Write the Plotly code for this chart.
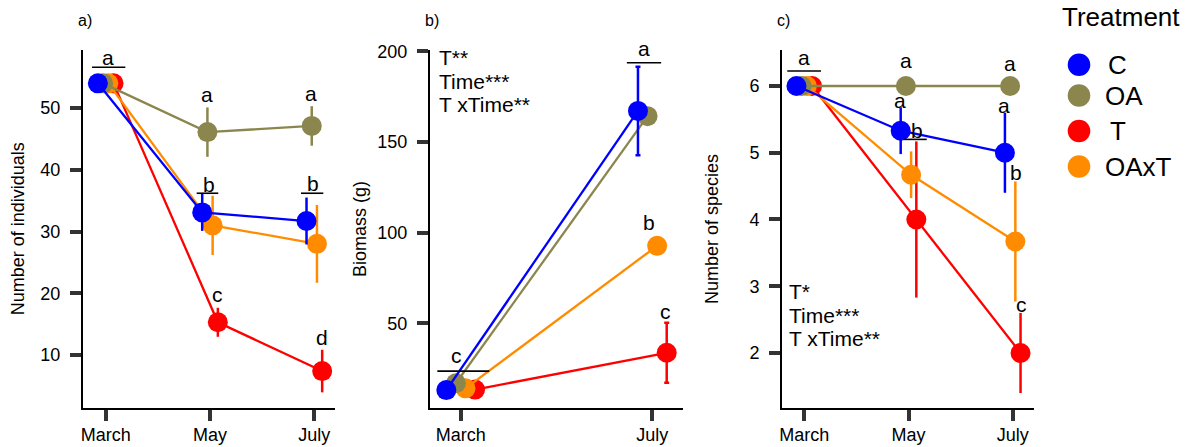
import plotly.graph_objects as go

W, H = 1189, 447
FONT = "Liberation Sans, Arial, sans-serif"

# ---------------- data ----------------
treatments = ["C", "OA", "OAxT", "T"]            # dodge order (left -> right)
legend_order = ["C", "OA", "T", "OAxT"]
draw_order = ["T", "OAxT", "OA", "C"]             # bottom -> top
colors = {"C": "#0000FF", "OA": "#8B864E", "T": "#FF0000", "OAxT": "#FF8C00"}
dodge = {"C": -0.075, "OA": -0.025, "OAxT": 0.025, "T": 0.075}

months3 = ["March", "May", "July"]
months2 = ["March", "July"]

# a) Number of individuals
ind_mean = {"C": [54, 33.1, 31.7], "OA": [54, 46.1, 47.1],
            "T": [54, 15.3, 7.4], "OAxT": [54, 31.0, 28.0]}
ind_err = {"C": [0, 3.0, 3.8], "OA": [0, 4.0, 3.2],
           "T": [0, 2.35, 3.45], "OAxT": [0, 4.8, 6.3]}

# b) Biomass (g)
bio_mean = {"C": [13.2, 167.2], "OA": [17.0, 164.3],
            "T": [13.5, 33.8], "OAxT": [14.2, 92.8]}
bio_err = {"C": [0, 24.4], "OA": [0, 0],
           "T": [0, 16.5], "OAxT": [0, 0]}

# c) Number of species
spe_mean = {"C": [6, 5.33, 5.0], "OA": [6, 6, 6],
            "T": [6, 4.0, 2.0], "OAxT": [6, 4.67, 3.67]}
spe_err = {"C": [0, 0.35, 0.6], "OA": [0, 0, 0],
           "T": [0, 1.17, 0.6], "OAxT": [0, 0.35, 0.9]}

# significance letters: (text, x in category units, y baseline in data units)
letters_a = [("a", 1.025, 56.96), ("a", 1.972, 51.0), ("a", 2.970, 51.2),
             ("b", 1.987, 36.45), ("b", 2.985, 36.6), ("c", 2.072, 18.6),
             ("d", 3.071, 11.6)]
underlines_a = [(0.869, 1.188, 56.6), (1.872, 2.079, 36.2), (2.872, 3.086, 36.2)]

letters_b = [("a", 1.955, 197.8), ("b", 1.982, 101.4), ("c", 2.070, 52.7),
             ("c", 0.979, 28.3)]
underlines_b = [(1.867, 2.046, 193.8), (0.878, 1.149, 23.7)]

letters_c = [("a", 1.0, 6.315), ("a", 1.976, 6.28), ("a", 2.974, 6.23),
             ("a", 1.918, 5.68), ("b", 2.079, 5.23), ("a", 2.917, 5.60),
             ("b", 3.029, 4.59), ("c", 3.080, 2.62)]
underlines_c = [(0.837, 1.16, 6.225), (1.96, 2.175, 5.20)]

stats_b = ["T**", "Time***", "T xTime**"]
stats_c = ["T*", "Time***", "T xTime**"]

# ---------------- layout geometry (pixels) ----------------
PLOT_TOP, PLOT_BOT = 50, 408
panels = [
    dict(name="a", x0=83, x1=335, xr=[0.7824, 3.198], yr=[1.417, 59.4],
         yt=[10, 20, 30, 40, 50], months=months3, mean=ind_mean, err=ind_err,
         cap=0, letters=letters_a, lines=underlines_a,
         title="Number of individuals", title_x=18.3, label="a)", label_x=78.3),
    dict(name="b", x0=430, x1=683, xr=[0.8398, 2.160], yr=[3.34, 200.8],
         yt=[50, 100, 150, 200], months=months2, mean=bio_mean, err=bio_err,
         cap=2.5, letters=letters_b, lines=underlines_b,
         title="Biomass (g)", title_x=360, label="b)", label_x=425),
    dict(name="c", x0=782, x1=1034, xr=[0.7863, 3.204], yr=[1.176, 6.539],
         yt=[2, 3, 4, 5, 6], months=months3, mean=spe_mean, err=spe_err,
         cap=0, letters=letters_c, lines=underlines_c,
         title="Number of species", title_x=712, label="c)", label_x=776.7),
]

fig = go.Figure()
annotations = []
shapes = []

LETTER_FS = 21
for i, p in enumerate(panels):
    k = "" if i == 0 else str(i + 1)
    xa, ya = "x" + k, "y" + k
    for t in draw_order:
        xs = [j + 1 + dodge[t] for j in range(len(p["months"]))]
        fig.add_trace(go.Scatter(
            x=xs, y=p["mean"][t], mode="lines+markers", xaxis=xa, yaxis=ya,
            line=dict(color=colors[t], width=2.3),
            marker=dict(color=colors[t], size=20, line=dict(width=0)),
            error_y=dict(type="data", array=p["err"][t], visible=True,
                         color=colors[t], thickness=2.5, width=p["cap"]),
            showlegend=False, hoverinfo="skip"))
    fig.layout["xaxis" + k] = dict(
        domain=[p["x0"] / W, p["x1"] / W], range=p["xr"], anchor=ya,
        tickvals=list(range(1, len(p["months"]) + 1)), ticktext=p["months"],
        showgrid=False, zeroline=False, showline=True, linecolor="black",
        linewidth=2, ticks="outside", ticklen=11, tickwidth=3.5,
        tickcolor="#333333", tickfont=dict(size=18, color="black", family=FONT),
        ticklabelstandoff=-2, fixedrange=True, automargin=False)
    fig.layout["yaxis" + k] = dict(
        domain=[1 - PLOT_BOT / H, 1 - PLOT_TOP / H], range=p["yr"], anchor=xa,
        tickvals=p["yt"], showgrid=False, zeroline=False, showline=True,
        linecolor="black", linewidth=2, ticks="outside", ticklen=11,
        tickwidth=3.5, tickcolor="#333333",
        tickfont=dict(size=18, color="black", family=FONT),
        ticklabelstandoff=6, fixedrange=True, automargin=False)
    for (txt, x, y) in p["letters"]:
        annotations.append(dict(text=txt, x=x, y=y, xref=xa, yref=ya,
                                showarrow=False, xanchor="center", yanchor="middle",
                                yshift=0.3465 * LETTER_FS,
                                font=dict(size=LETTER_FS, color="black", family=FONT)))
    for (x0, x1, y) in p["lines"]:
        shapes.append(dict(type="line", xref=xa, yref=ya, x0=x0, x1=x1, y0=y, y1=y,
                           line=dict(color="black", width=1.6)))
    annotations.append(dict(text=p["title"], x=p["title_x"] / W, y=1 - 229 / H,
                            xref="paper", yref="paper", showarrow=False,
                            textangle=-90, xanchor="center", yanchor="middle",
                            font=dict(size=18, color="black", family=FONT)))
    annotations.append(dict(text=p["label"], x=(p["label_x"] - 2) / W, y=1 - 20.5 / H,
                            xref="paper", yref="paper", showarrow=False,
                            xanchor="left", yanchor="middle",
                            font=dict(size=16, color="black", family=FONT)))

STAT_FS = 21
for lines, x_left, baselines in [(stats_b, 439.3, [65, 88.3, 111.7]),
                                 (stats_c, 789.3, [299, 322.3, 345.7])]:
    for txt, bl in zip(lines, baselines):
        annotations.append(dict(text=txt, x=(x_left - 2.5) / W,
                                y=1 - (bl - 0.3465 * STAT_FS) / H,
                                xref="paper", yref="paper", showarrow=False,
                                xanchor="left", yanchor="middle",
                                font=dict(size=STAT_FS, color="black", family=FONT)))

annotations.append(dict(text="Treatment", x=1059.5 / W, y=1 - 17 / H,
                        xref="paper", yref="paper", showarrow=False,
                        xanchor="left", yanchor="middle",
                        font=dict(size=26, color="black", family=FONT)))
leg_y = {"C": 64.8, "OA": 95.5, "T": 131, "OAxT": 166.5}
leg_tx = {"C": 1105.7, "OA": 1102.7, "T": 1108, "OAxT": 1102.7}
for t in legend_order:
    shapes.append(dict(type="circle", xref="paper", yref="paper",
                       xsizemode="pixel", ysizemode="pixel",
                       xanchor=1079 / W, yanchor=1 - leg_y[t] / H,
                       x0=-11.3, x1=11.3, y0=-11.3, y1=11.3,
                       fillcolor=colors[t], line=dict(width=0)))
    annotations.append(dict(text=t, x=leg_tx[t] / W, y=1 - leg_y[t] / H,
                            xref="paper", yref="paper", showarrow=False,
                            xanchor="left", yanchor="middle",
                            font=dict(size=26, color="black", family=FONT)))

fig.update_layout(
    width=W, height=H, margin=dict(l=0, r=0, t=0, b=0, pad=0, autoexpand=False),
    paper_bgcolor="white", plot_bgcolor="white",
    font=dict(family=FONT, color="black"),
    annotations=annotations, shapes=shapes, showlegend=False)

fig.write_html(
    "out.html", config={"displayModeBar": False, "responsive": False},
    post_script="document.body.style.margin='0';document.body.style.padding='0';"
                "document.documentElement.style.overflow='hidden';")
